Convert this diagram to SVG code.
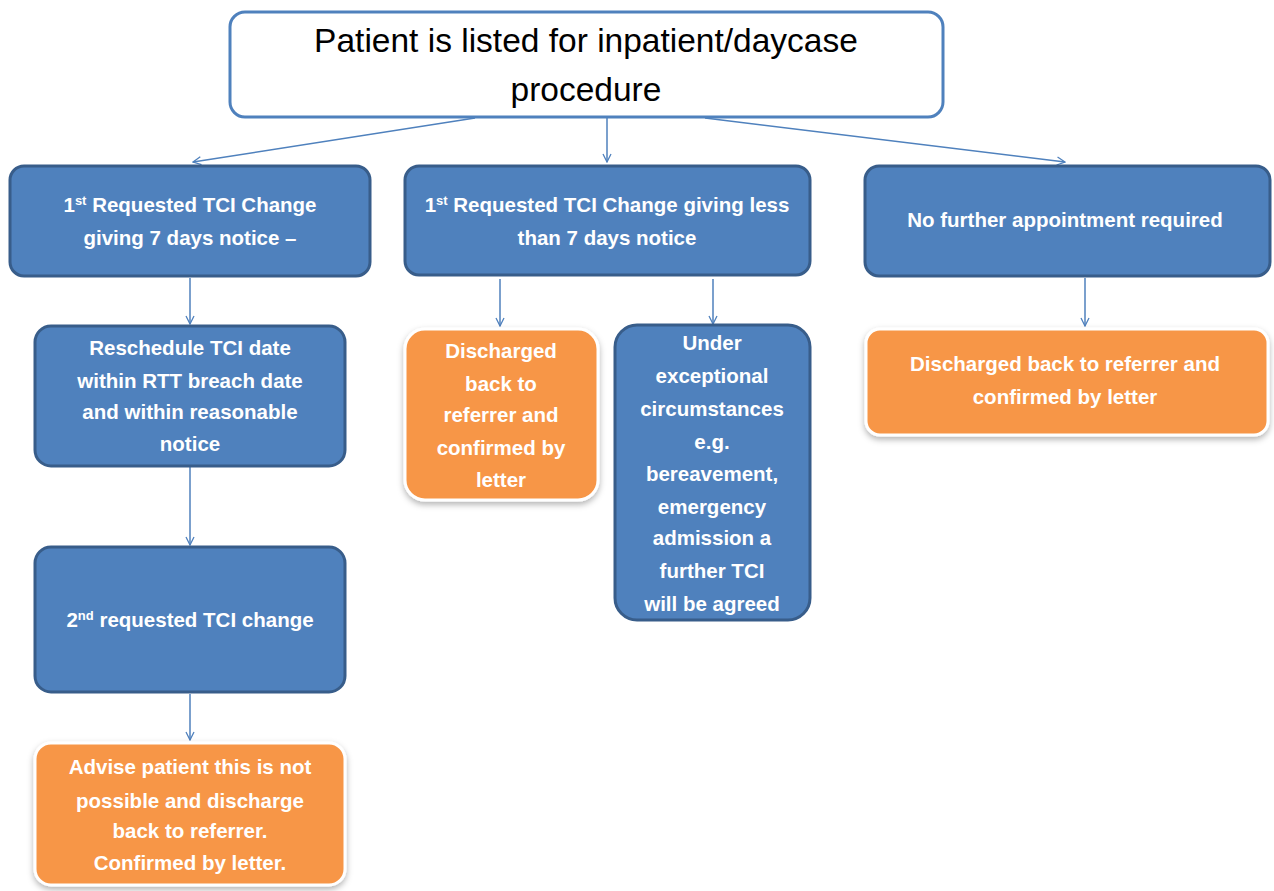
<svg xmlns="http://www.w3.org/2000/svg" width="1274" height="891" viewBox="0 0 1274 891">
<defs>
<style>
.blue{fill:#4f81bd;stroke:#385d8a;stroke-width:3}
.orange{fill:#f79646;stroke:#ffffff;stroke-width:3}
.t{font-family:"Liberation Sans",Arial,sans-serif;font-weight:bold;font-size:20.5px;fill:#ffffff;text-anchor:middle}
.top{font-family:"Liberation Sans",Arial,sans-serif;font-size:33.5px;fill:#000000;text-anchor:middle}
.c{stroke:#4f81bd;stroke-width:1.5;fill:none;marker-end:url(#v)}
</style>
<marker id="v" viewBox="0 0 10 10" refX="9" refY="5" markerWidth="10" markerHeight="10" markerUnits="userSpaceOnUse" orient="auto">
<path d="M1,1 L9,5 L1,9" fill="none" stroke="#4f81bd" stroke-width="1.3"/>
</marker>
<filter id="sh" x="-10%" y="-10%" width="120%" height="125%">
<feDropShadow dx="0" dy="3" stdDeviation="3" flood-color="#000" flood-opacity="0.3"/>
</filter>
</defs>
<rect width="1274" height="891" fill="#ffffff"/>
<g id="connectors">
<line class="c" x1="475" y1="118" x2="193" y2="162"/>
<line class="c" x1="607" y1="118" x2="607" y2="162"/>
<line class="c" x1="705" y1="118" x2="1065" y2="162"/>
<line class="c" x1="190" y1="278" x2="190" y2="324"/>
<line class="c" x1="190" y1="467" x2="190" y2="545"/>
<line class="c" x1="190" y1="694" x2="190" y2="740"/>
<line class="c" x1="500" y1="279" x2="500" y2="326"/>
<line class="c" x1="713" y1="279" x2="713" y2="324"/>
<line class="c" x1="1085" y1="278" x2="1085" y2="326"/>
</g>
<g id="n-top">
<rect x="230" y="12" width="713" height="105" rx="15" fill="#ffffff" stroke="#4f81bd" stroke-width="3"/>
<text class="top" x="586" y="52">Patient is listed for inpatient/daycase</text>
<text class="top" x="586" y="101">procedure</text>
</g>
<g id="n-first7">
<rect class="blue" x="10" y="166" width="360" height="110" rx="14"/>
<text class="t" x="190" y="212">1<tspan font-size="13" dy="-7">st</tspan><tspan dy="7"> Requested TCI Change</tspan></text>
<text class="t" x="190" y="245">giving 7 days notice –</text>
</g>
<g id="n-firstless">
<rect class="blue" x="405" y="166" width="405" height="109" rx="14"/>
<text class="t" x="607" y="212">1<tspan font-size="13" dy="-7">st</tspan><tspan dy="7"> Requested TCI Change giving less</tspan></text>
<text class="t" x="607" y="245">than 7 days notice</text>
</g>
<g id="n-nofurther">
<rect class="blue" x="865" y="166" width="405" height="110" rx="14"/>
<text class="t" x="1065" y="227">No further appointment required</text>
</g>
<g id="n-reschedule">
<rect class="blue" x="35" y="326" width="310" height="140" rx="16"/>
<text class="t" x="190" y="355">Reschedule TCI date</text>
<text class="t" x="190" y="388">within RTT breach date</text>
<text class="t" x="190" y="419">and within reasonable</text>
<text class="t" x="190" y="451">notice</text>
</g>
<g id="n-second">
<rect class="blue" x="35" y="547" width="310" height="145" rx="16"/>
<text class="t" x="190" y="627">2<tspan font-size="13" dy="-7">nd</tspan><tspan dy="7"> requested TCI change</tspan></text>
</g>
<g id="n-advise">
<rect class="orange" filter="url(#sh)" x="35" y="743" width="310" height="142" rx="16"/>
<text class="t" x="190" y="774">Advise patient this is not</text>
<text class="t" x="190" y="808">possible and discharge</text>
<text class="t" x="190" y="838">back to referrer.</text>
<text class="t" x="190" y="870">Confirmed by letter.</text>
</g>
<g id="n-discharged-mid">
<rect class="orange" filter="url(#sh)" x="405" y="329" width="193" height="171" rx="20"/>
<text class="t" x="501" y="358">Discharged</text>
<text class="t" x="501" y="391">back to</text>
<text class="t" x="501" y="422">referrer and</text>
<text class="t" x="501" y="455">confirmed by</text>
<text class="t" x="501" y="487">letter</text>
</g>
<g id="n-exceptional">
<rect class="blue" x="615" y="325" width="195" height="295" rx="22"/>
<text class="t" x="712" y="350">Under</text>
<text class="t" x="712" y="383">exceptional</text>
<text class="t" x="712" y="416">circumstances</text>
<text class="t" x="712" y="449">e.g.</text>
<text class="t" x="712" y="481">bereavement,</text>
<text class="t" x="712" y="514">emergency</text>
<text class="t" x="712" y="545">admission a</text>
<text class="t" x="712" y="578">further TCI</text>
<text class="t" x="712" y="611">will be agreed</text>
</g>
<g id="n-discharged-right">
<rect class="orange" filter="url(#sh)" x="866" y="329" width="402" height="106" rx="14"/>
<text class="t" x="1065" y="371">Discharged back to referrer and</text>
<text class="t" x="1065" y="404">confirmed by letter</text>
</g>
</svg>
